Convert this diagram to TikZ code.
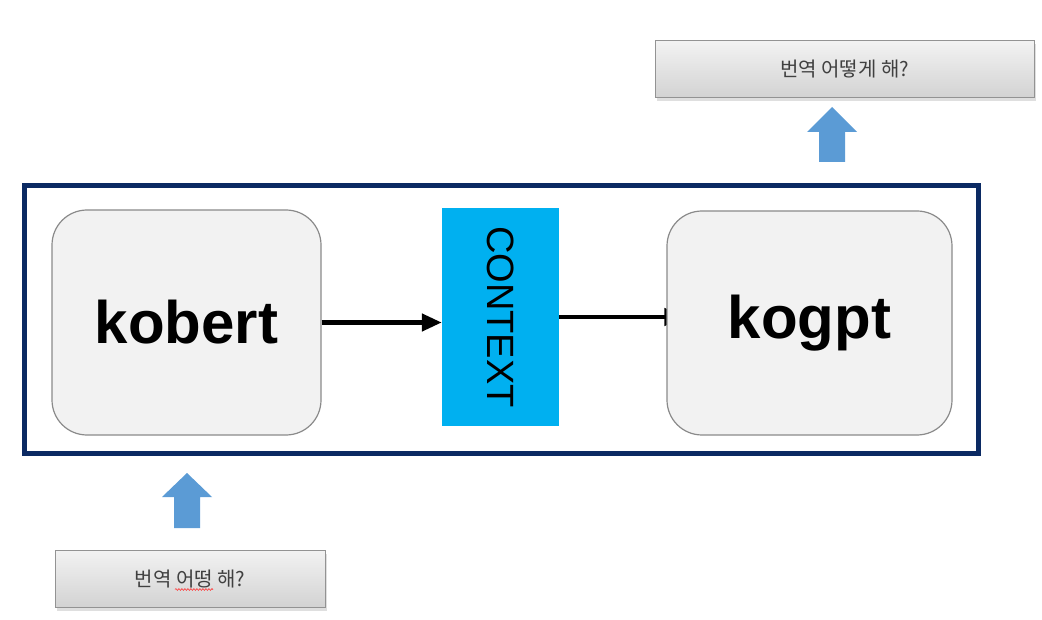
\documentclass[tikz,border=0pt]{standalone}
\usepackage{fontspec}
\setmainfont{Liberation Sans}
\newfontfamily\krfont{Noto Sans CJK KR}
\usetikzlibrary{arrows.meta,shadows,backgrounds,decorations.pathmorphing}
\definecolor{navy}{HTML}{0B2A63}
\definecolor{boxgray}{HTML}{F2F2F2}
\definecolor{edgegray}{HTML}{8A8A8A}
\definecolor{ctxblue}{HTML}{00B0F0}
\definecolor{upblue}{HTML}{5B9BD5}
\definecolor{txtgray}{HTML}{404040}
\begin{document}
\begin{tikzpicture}[x=1pt,y=-1pt,
  model/.style={draw=edgegray,line width=1.2pt,fill=boxgray,rounded corners=35pt,inner sep=0pt,
    font=\bfseries\fontsize{60}{60}\selectfont},
  ctxbox/.style={fill=ctxblue,inner sep=0pt,minimum width=117pt,minimum height=218pt},
  frame/.style={draw=navy,line width=5pt,inner sep=0pt},
  msgbox/.style={draw=gray!85,line width=1pt,top color=gray!10,bottom color=gray!35,inner sep=0pt,
    minimum height=57pt,font=\krfont\fontsize{20}{20}\selectfont,text=txtgray,
    drop shadow={shadow xshift=2pt,shadow yshift=-3pt,opacity=0.25}},
  conn/.style={line width=4.5pt,-{Triangle[length=20pt,width=17pt]}},
  uparrow/.style={fill=upblue}]
\useasboundingbox (0,0) rectangle (1042,620);
% frame
\node[frame,minimum width=954pt,minimum height=267pt] (frame) at (501,319.5) {};
% models
\node[model,minimum width=269pt,minimum height=225pt] (kobert) at (186.5,322.5) {kobert};
\node[model,minimum width=285pt,minimum height=224pt] (kogpt) at (809.5,323) {kogpt};
\node[ctxbox] (context) at (500.5,317) {};
\node[rotate=-90,font=\fontsize{38}{38}\selectfont,inner sep=0pt] (ctxlabel) at (context.center) {CONTEXT};
% connectors
\draw[conn] (kobert.east) -- (kobert.east -| context.west);
\begin{scope}[on background layer]
\draw[conn] (context.east) -- ([xshift=18pt]context.east -| kogpt.west);
\end{scope}
% messages
\node[msgbox,minimum width=379pt] (outmsg) at (844.5,69.5) {번역 어떻게 해?};
\node[msgbox,minimum width=270pt] (inmsg) at (190,579) {번역 어떵 해?};
\draw[red!80,line width=0.6pt,decorate,decoration={snake,amplitude=0.9pt,segment length=3pt}] (175,589.5) -- (213,589.5);
% block arrows
\fill[uparrow] (819,162) -- (845,162) -- (845,132) -- (857,132) -- (832,107) -- (807,132) -- (819,132) -- cycle;
\fill[uparrow] (174,528) -- (200,528) -- (200,497) -- (212,497) -- (187,473) -- (162,497) -- (174,497) -- cycle;
\end{tikzpicture}
\end{document}
